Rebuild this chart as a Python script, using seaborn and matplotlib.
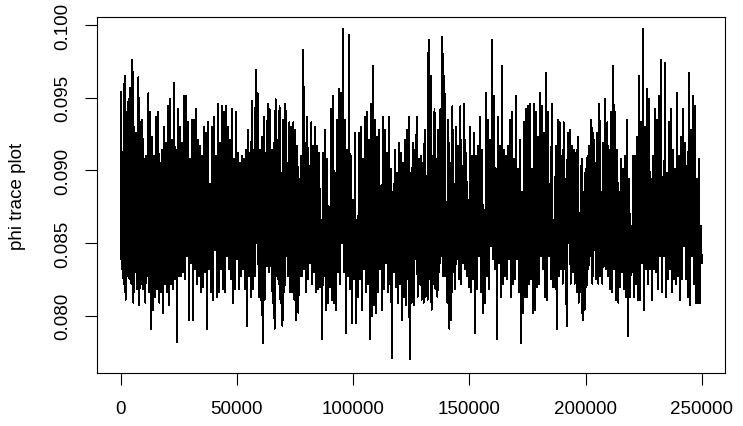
import numpy as np
import pandas as pd
import seaborn as sns
import matplotlib
matplotlib.use("Agg")
import matplotlib.pyplot as plt

# Local upper extremes of the phi chain, read left to right
phi_peaks = [
    0.0954, 0.0913, 0.0965, 0.0940, 0.0949, 0.0957, 0.0976, 0.0930, 0.0926, 0.0964,
    0.0933, 0.0935, 0.0908, 0.0910, 0.0953, 0.0940, 0.0923, 0.0910, 0.0937, 0.0940,
    0.0905, 0.0914, 0.0930, 0.0919, 0.0944, 0.0949, 0.0921, 0.0960, 0.0914, 0.0942,
    0.0930, 0.0919, 0.0951, 0.0951, 0.0933, 0.0908,
    0.0935, 0.0935, 0.0942, 0.0921, 0.0917, 0.0910, 0.0930, 0.0926, 0.0933, 0.0891,
    0.0930, 0.0937, 0.0910, 0.0946, 0.0919, 0.0944, 0.0940, 0.0944, 0.0930, 0.0921,
    0.0942, 0.0908, 0.0940, 0.0912, 0.0905, 0.0910, 0.0908, 0.0914, 0.0928, 0.0912,
    0.0948, 0.0914, 0.0969, 0.0953, 0.0914, 0.0923, 0.0937, 0.0912,
    0.0946, 0.0942, 0.0914, 0.0919, 0.0949, 0.0921, 0.0944, 0.0898, 0.0935, 0.0946,
    0.0905, 0.0933, 0.0930, 0.0933, 0.0928, 0.0917, 0.0894, 0.0910, 0.0983, 0.0919,
    0.0937, 0.0903, 0.0933, 0.0917, 0.0930, 0.0917, 0.0912, 0.0866, 0.0912, 0.0928,
    0.0908, 0.0875, 0.0942, 0.0951, 0.0898, 0.0935, 0.0956,
    0.0953, 0.0997, 0.0935, 0.0914, 0.0993, 0.0910, 0.0880, 0.0926, 0.0866, 0.0926,
    0.0930, 0.0908, 0.0937, 0.0940, 0.0921, 0.0946, 0.0972, 0.0935, 0.0923, 0.0928,
    0.0889, 0.0937, 0.0928, 0.0912, 0.0937, 0.0901, 0.0885, 0.0914, 0.0898, 0.0919,
    0.0912, 0.0905, 0.0921, 0.0928, 0.0937, 0.0898, 0.0919,
    0.0914, 0.0937, 0.0908, 0.0910, 0.0905, 0.0928, 0.0896, 0.0990, 0.0965, 0.0910,
    0.0942, 0.0908, 0.0928, 0.0942, 0.0992, 0.0965, 0.0878, 0.0935, 0.0905, 0.0944,
    0.0891, 0.0930, 0.0917, 0.0944, 0.0903, 0.0946, 0.0912, 0.0880, 0.0930, 0.0910,
    0.0926, 0.0910, 0.0917, 0.0937, 0.0914, 0.0873, 0.0953,
    0.0935, 0.0921, 0.0990, 0.0951, 0.0901, 0.0937, 0.0917, 0.0972, 0.0914, 0.0910,
    0.0917, 0.0935, 0.0940, 0.0908, 0.0951, 0.0901, 0.0921, 0.0885, 0.0933, 0.0942,
    0.0944, 0.0946, 0.0901, 0.0946, 0.0940, 0.0923, 0.0953, 0.0944, 0.0926, 0.0967,
    0.0940, 0.0891, 0.0946, 0.0866, 0.0917, 0.0935, 0.0933,
    0.0910, 0.0933, 0.0894, 0.0926, 0.0928, 0.0917, 0.0914, 0.0912, 0.0923, 0.0871,
    0.0908, 0.0885, 0.0901, 0.0910, 0.0917, 0.0935, 0.0926, 0.0905, 0.0926, 0.0946,
    0.0885, 0.0919, 0.0949, 0.0933, 0.0914, 0.0940, 0.0972, 0.0940, 0.0914, 0.0885,
    0.0908, 0.0901, 0.0910, 0.0935, 0.0894, 0.0862, 0.0910,
    0.0910, 0.0923, 0.0965, 0.0933, 0.0997, 0.0930, 0.0956, 0.0949, 0.0894, 0.0910,
    0.0942, 0.0935, 0.0951, 0.0976, 0.0873, 0.0974, 0.0898, 0.0933, 0.0942, 0.0914,
    0.0901, 0.0953, 0.0910, 0.0923, 0.0942, 0.0919, 0.0903, 0.0967, 0.0928, 0.0951,
    0.0944, 0.0894, 0.0908, 0.0862,
]

# Local lower extremes of the phi chain, read left to right
phi_troughs = [
    0.0832, 0.0822, 0.0811, 0.0827, 0.0825, 0.0822, 0.0809, 0.0830, 0.0818, 0.0807,
    0.0822, 0.0818, 0.0809, 0.0827, 0.0816, 0.0791, 0.0804, 0.0813, 0.0818, 0.0809,
    0.0816, 0.0802, 0.0822, 0.0816, 0.0807, 0.0822, 0.0818, 0.0825, 0.0782, 0.0827,
    0.0827, 0.0830, 0.0825, 0.0841, 0.0797, 0.0836,
    0.0797, 0.0832, 0.0822, 0.0827, 0.0816, 0.0820, 0.0830, 0.0791, 0.0832, 0.0816,
    0.0811, 0.0845, 0.0813, 0.0816, 0.0832, 0.0818, 0.0816, 0.0841, 0.0832, 0.0825,
    0.0809, 0.0818, 0.0839, 0.0818, 0.0827, 0.0832, 0.0818, 0.0793, 0.0827, 0.0813,
    0.0818, 0.0827, 0.0850, 0.0813, 0.0811, 0.0781, 0.0811, 0.0834,
    0.0830, 0.0834, 0.0809, 0.0791, 0.0827, 0.0822, 0.0809, 0.0793, 0.0816, 0.0841,
    0.0827, 0.0816, 0.0816, 0.0811, 0.0797, 0.0802, 0.0827, 0.0827, 0.0832, 0.0816,
    0.0825, 0.0836, 0.0822, 0.0830, 0.0816, 0.0818, 0.0820, 0.0784, 0.0827, 0.0804,
    0.0809, 0.0820, 0.0811, 0.0809, 0.0804, 0.0830, 0.0822,
    0.0850, 0.0830, 0.0788, 0.0827, 0.0818, 0.0795, 0.0825, 0.0795, 0.0813, 0.0825,
    0.0804, 0.0832, 0.0816, 0.0822, 0.0784, 0.0800, 0.0807, 0.0802, 0.0816, 0.0832,
    0.0804, 0.0818, 0.0836, 0.0816, 0.0822, 0.0771, 0.0830, 0.0820, 0.0809, 0.0822,
    0.0797, 0.0813, 0.0807, 0.0825, 0.0770, 0.0809, 0.0807,
    0.0839, 0.0813, 0.0822, 0.0811, 0.0809, 0.0813, 0.0811, 0.0825, 0.0804, 0.0822,
    0.0818, 0.0813, 0.0830, 0.0841, 0.0827, 0.0827, 0.0809, 0.0791, 0.0797, 0.0830,
    0.0818, 0.0839, 0.0825, 0.0822, 0.0836, 0.0832, 0.0827, 0.0820, 0.0816, 0.0825,
    0.0788, 0.0818, 0.0841, 0.0816, 0.0802, 0.0809, 0.0827,
    0.0818, 0.0848, 0.0839, 0.0832, 0.0784, 0.0836, 0.0813, 0.0822, 0.0827, 0.0825,
    0.0839, 0.0813, 0.0822, 0.0825, 0.0839, 0.0816, 0.0781, 0.0802, 0.0813, 0.0813,
    0.0822, 0.0825, 0.0802, 0.0804, 0.0820, 0.0822, 0.0841, 0.0832, 0.0813, 0.0811,
    0.0841, 0.0825, 0.0820, 0.0820, 0.0791, 0.0827, 0.0832,
    0.0822, 0.0832, 0.0793, 0.0850, 0.0822, 0.0830, 0.0822, 0.0816, 0.0809, 0.0816,
    0.0797, 0.0804, 0.0820, 0.0832, 0.0841, 0.0822, 0.0845, 0.0825, 0.0822, 0.0827,
    0.0822, 0.0834, 0.0832, 0.0827, 0.0818, 0.0816, 0.0832, 0.0811, 0.0809, 0.0820,
    0.0830, 0.0818, 0.0813, 0.0786, 0.0813, 0.0830, 0.0813,
    0.0822, 0.0811, 0.0811, 0.0836, 0.0804, 0.0832, 0.0822, 0.0832, 0.0811, 0.0832,
    0.0830, 0.0818, 0.0841, 0.0816, 0.0841, 0.0813, 0.0825, 0.0832, 0.0816, 0.0825,
    0.0822, 0.0827, 0.0811, 0.0825, 0.0848, 0.0825, 0.0813, 0.0807, 0.0841, 0.0822,
    0.0809, 0.0809, 0.0809, 0.0836,
]

n_iter = 250000
x_ticks = [0, 50000, 100000, 150000, 200000, 250000]
x_tick_labels = ["0", "50000", "100000", "150000", "200000", "250000"]
y_ticks = [0.080, 0.085, 0.090, 0.095, 0.100]
y_tick_labels = ["0.080", "0.085", "0.090", "0.095", "0.100"]
y_label = "phi trace plot"

phi = np.column_stack([phi_peaks, phi_troughs]).ravel()
iteration = np.linspace(0, n_iter, len(phi))
df = pd.DataFrame({"iteration": iteration, "phi": phi})

sns.set_theme(style="white")
plt.rcParams["font.family"] = ["Liberation Sans", "DejaVu Sans"]

fig = plt.figure(figsize=(7.43, 4.27), dpi=100)
ax = fig.add_axes([97.3 / 743, 1 - 374 / 427, (725 - 97.3) / 743, (374 - 18.3) / 427])

sns.lineplot(data=df, x="iteration", y="phi", ax=ax, color="black",
             linewidth=0.7, estimator=None, sort=False, antialiased=False)

ax.set_xlim(-10000, 260000)
ax.set_ylim(0.07606, 0.10053)
ax.set_xticks(x_ticks)
ax.set_xticklabels(x_tick_labels)
ax.set_yticks(y_ticks)
ax.set_yticklabels(y_tick_labels, rotation=90, va="center", ha="right")
ax.set_xlabel("")
ax.set_ylabel(y_label, fontsize=13.5, color="black")
ax.yaxis.set_label_coords(-0.1128, 0.5)

for s in ax.spines.values():
    s.set_visible(True)
    s.set_color("black")
    s.set_linewidth(0.8)

ax.tick_params(axis="both", which="major", direction="out", length=8.5,
               width=0.8, color="black", labelsize=13.5, labelcolor="black",
               bottom=True, left=True)
ax.tick_params(axis="x", pad=11)
ax.tick_params(axis="y", pad=10)
ax.grid(False)

fig.savefig("out.png", dpi=100, facecolor="white")
